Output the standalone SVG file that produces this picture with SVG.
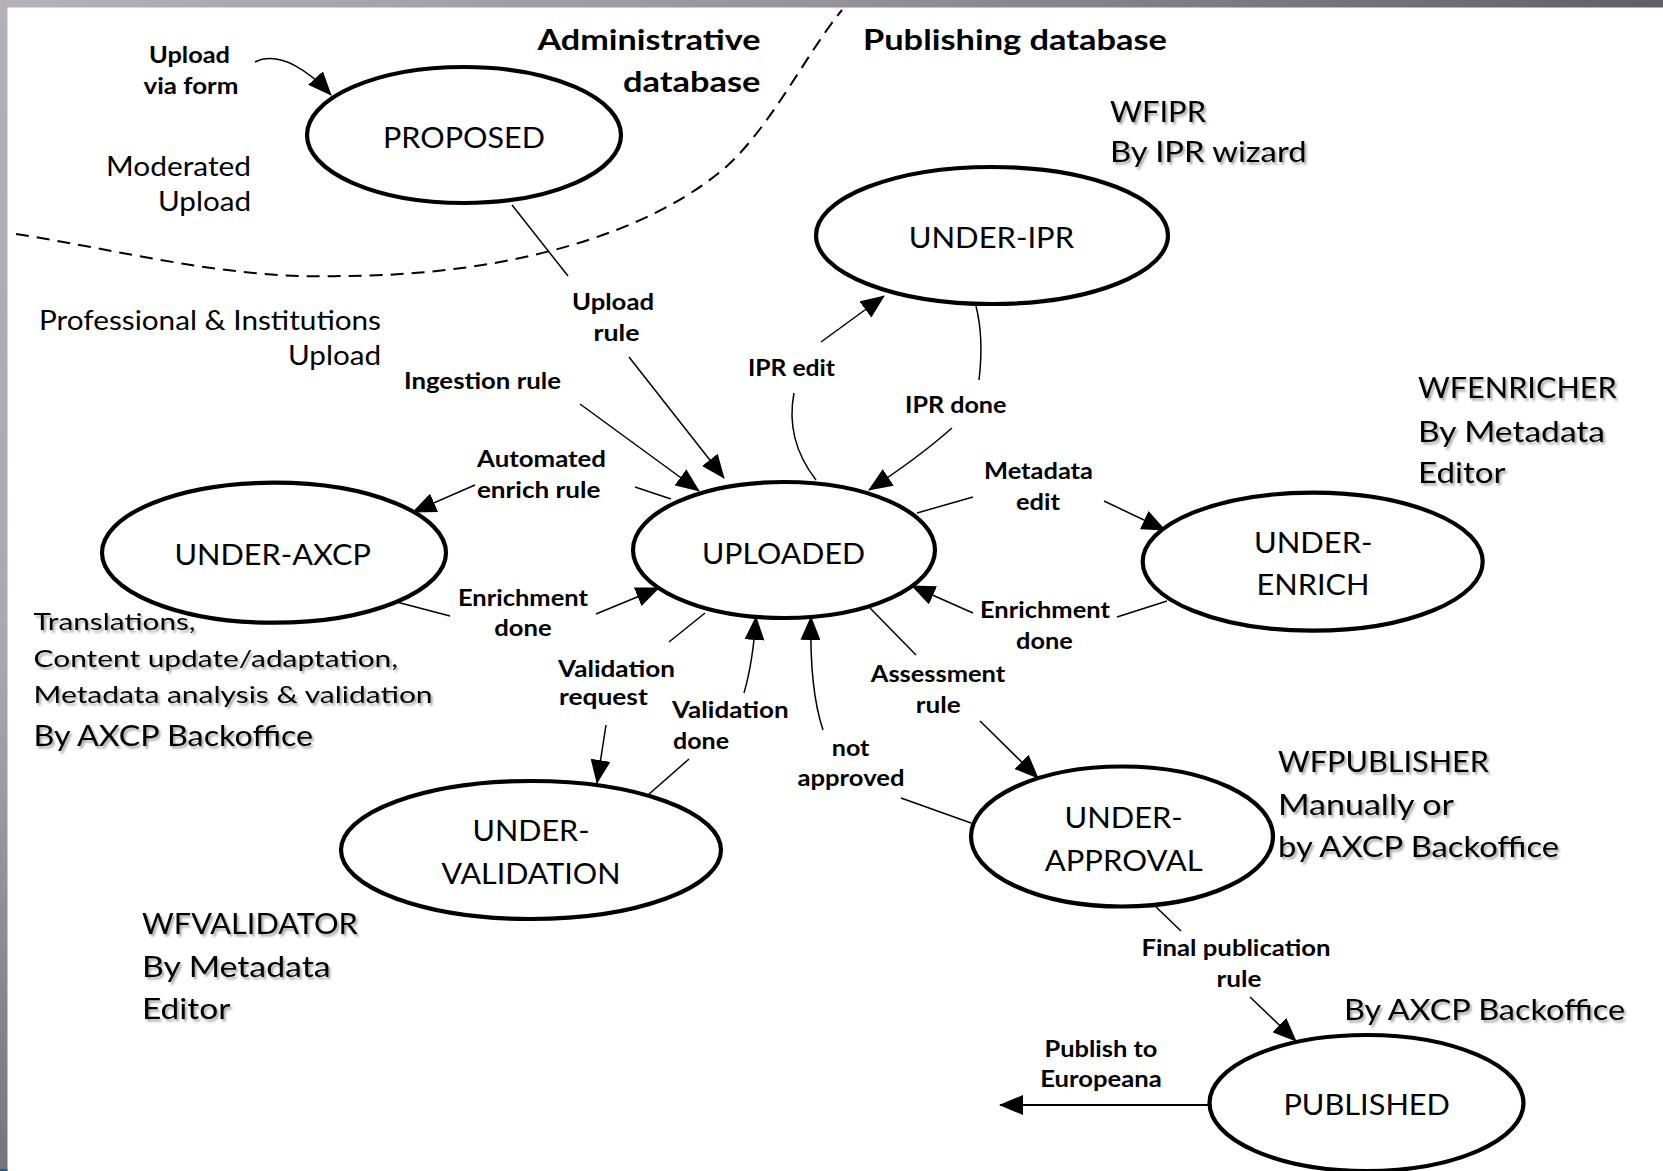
<svg xmlns="http://www.w3.org/2000/svg" width="1663" height="1171" viewBox="0 0 1663 1171">
<defs>
<linearGradient id="gTop" x1="0" y1="0" x2="1" y2="0">
<stop offset="0" stop-color="#b6b2ba"/><stop offset="0.5" stop-color="#95929a"/><stop offset="1" stop-color="#625f66"/>
</linearGradient>
<linearGradient id="gLeft" x1="0" y1="0" x2="0" y2="1">
<stop offset="0" stop-color="#b4b0b8"/><stop offset="0.55" stop-color="#aaa8b0"/><stop offset="1" stop-color="#77757b"/>
</linearGradient>
<marker id="arr" markerUnits="userSpaceOnUse" markerWidth="24" markerHeight="20" refX="23" refY="10" orient="auto">
<path d="M0,0 L24,10 L0,20 z" fill="#000"/>
</marker>
<filter id="shadow" x="-5%" y="-20%" width="115%" height="160%">
<feDropShadow dx="2" dy="2.5" stdDeviation="1.2" flood-color="#000" flood-opacity="0.35"/>
</filter>
<style>
.node ellipse{fill:#fff;stroke:#000;stroke-width:4.2}
.ntext{font-family:Lato,"Open Sans","Liberation Sans",sans-serif;font-size:28.5px;fill:#000;text-anchor:middle}
.lbl{font-family:Lato,"Open Sans","Liberation Sans",sans-serif;font-weight:bold;font-size:23px;fill:#000}
.title{font-family:Lato,"Open Sans","Liberation Sans",sans-serif;font-weight:bold;font-size:29px;fill:#000}
.note{font-family:Lato,"Open Sans","Liberation Sans",sans-serif;font-size:27px;fill:#000}
.sn{font-family:Lato,"Open Sans","Liberation Sans",sans-serif;font-size:28px;fill:#000;filter:url(#shadow)}
.sm{font-family:Lato,"Open Sans","Liberation Sans",sans-serif;font-size:24px;fill:#000;filter:url(#shadow)}
.c{text-anchor:middle}
.e{text-anchor:end}
.conn path{fill:none;stroke:#000;stroke-width:1.5}
.conn path.a{marker-end:url(#arr)}
.dash{fill:none;stroke:#000;stroke-width:2;stroke-dasharray:13 8}
</style>
</defs>

<rect x="0" y="0" width="1663" height="1171" fill="#ffffff"/>
<rect x="0" y="0" width="1663" height="7.5" fill="url(#gTop)"/>
<rect x="0" y="0" width="7.5" height="1171" fill="url(#gLeft)"/>
<rect x="0" y="1169" width="7.5" height="2" fill="#1f5f94"/>

<path class="dash" d="M 16,234 C 120,250 230,280 340,276 C 480,276 630,245 720,172 C 768,133 805,55 842,10"/>

<g id="titles">
<text class="title e" x="760.5" y="50" textLength="223" lengthAdjust="spacingAndGlyphs">Administrative</text>
<text class="title e" x="760.5" y="92" textLength="137.5" lengthAdjust="spacingAndGlyphs">database</text>
<text class="title" x="863" y="50" textLength="304" lengthAdjust="spacingAndGlyphs">Publishing database</text>
</g>

<g id="connectors" class="conn">
<path class="a" d="M 255,62 C 280,50 310,72 331,95"/>
<path d="M 512,205 L 568,276"/>
<path class="a" d="M 629,357 L 724,478"/>
<path class="a" d="M 580,404 L 699,491"/>
<path d="M 816,480 Q 785,440 794,393"/>
<path class="a" d="M 821,342 L 884,296"/>
<path d="M 976,306 C 982,330 982,355 979,380"/>
<path class="a" d="M 952,428 Q 918,458 869,490"/>
<path d="M 671,499 L 635,487"/>
<path class="a" d="M 475,485 L 413,512"/>
<path d="M 389,600 L 450,616"/>
<path class="a" d="M 596,614 L 659,588"/>
<path d="M 705,613 L 669,642"/>
<path class="a" d="M 606,725 L 597,783"/>
<path d="M 648,795 L 689,759"/>
<path class="a" d="M 744,693 Q 753,662 756,617"/>
<path d="M 971,823 L 901,798"/>
<path class="a" d="M 823,730 C 813,700 810,660 811,617"/>
<path d="M 917,513 L 973,497"/>
<path class="a" d="M 1104,501 L 1165,530"/>
<path d="M 1167,601 L 1117,617"/>
<path class="a" d="M 973,613 L 912,586"/>
<path d="M 870,608 L 916,655"/>
<path class="a" d="M 980,721 L 1038,778"/>
<path d="M 1156,907 L 1181,931"/>
<path class="a" d="M 1250,997 L 1296,1041"/>
<path class="a" style="stroke-width:2" d="M 1210,1105 L 1000,1105"/>
</g>

<g id="edge-labels">
<text class="lbl c" x="189.5" y="63" textLength="81" lengthAdjust="spacingAndGlyphs">Upload</text>
<text class="lbl c" x="191" y="94" textLength="95" lengthAdjust="spacingAndGlyphs">via form</text>
<text class="lbl c" x="613" y="310" textLength="82" lengthAdjust="spacingAndGlyphs">Upload</text>
<text class="lbl c" x="616.5" y="341" textLength="46" lengthAdjust="spacingAndGlyphs">rule</text>
<text class="lbl c" x="482.5" y="389" textLength="157" lengthAdjust="spacingAndGlyphs">Ingestion rule</text>
<text class="lbl c" x="791.5" y="376" textLength="87" lengthAdjust="spacingAndGlyphs">IPR edit</text>
<text class="lbl c" x="955.7" y="413" textLength="101.5" lengthAdjust="spacingAndGlyphs">IPR done</text>
<text class="lbl c" x="541.5" y="467" textLength="129" lengthAdjust="spacingAndGlyphs">Automated</text>
<text class="lbl c" x="538.7" y="498" textLength="123.5" lengthAdjust="spacingAndGlyphs">enrich rule</text>
<text class="lbl c" x="523" y="606" textLength="130" lengthAdjust="spacingAndGlyphs">Enrichment</text>
<text class="lbl c" x="523" y="636" textLength="57.5" lengthAdjust="spacingAndGlyphs">done</text>
<text class="lbl" x="558" y="677" textLength="117" lengthAdjust="spacingAndGlyphs">Validation</text>
<text class="lbl" x="559" y="705" textLength="88.7" lengthAdjust="spacingAndGlyphs">request</text>
<text class="lbl" x="672" y="718" textLength="116.6" lengthAdjust="spacingAndGlyphs">Validation</text>
<text class="lbl" x="673" y="749" textLength="56" lengthAdjust="spacingAndGlyphs">done</text>
<text class="lbl c" x="850.6" y="756" textLength="37.7" lengthAdjust="spacingAndGlyphs">not</text>
<text class="lbl c" x="851" y="786" textLength="107" lengthAdjust="spacingAndGlyphs">approved</text>
<text class="lbl c" x="1038.5" y="479" textLength="109" lengthAdjust="spacingAndGlyphs">Metadata</text>
<text class="lbl c" x="1038" y="510" textLength="44" lengthAdjust="spacingAndGlyphs">edit</text>
<text class="lbl c" x="1045" y="618" textLength="130" lengthAdjust="spacingAndGlyphs">Enrichment</text>
<text class="lbl c" x="1044.4" y="649" textLength="56.7" lengthAdjust="spacingAndGlyphs">done</text>
<text class="lbl c" x="938" y="682" textLength="134.5" lengthAdjust="spacingAndGlyphs">Assessment</text>
<text class="lbl c" x="938.3" y="713" textLength="45" lengthAdjust="spacingAndGlyphs">rule</text>
<text class="lbl c" x="1236" y="956" textLength="189" lengthAdjust="spacingAndGlyphs">Final publication</text>
<text class="lbl c" x="1239" y="987" textLength="45" lengthAdjust="spacingAndGlyphs">rule</text>
<text class="lbl c" x="1101" y="1057" textLength="113" lengthAdjust="spacingAndGlyphs">Publish to</text>
<text class="lbl c" x="1101" y="1087" textLength="121.6" lengthAdjust="spacingAndGlyphs">Europeana</text>
</g>

<g id="node-proposed" class="node">
<ellipse cx="464" cy="135" rx="157" ry="68"/>
<text class="ntext" x="464" y="148" textLength="162" lengthAdjust="spacingAndGlyphs">PROPOSED</text>
</g>
<g id="node-under-ipr" class="node">
<ellipse cx="992" cy="235.5" rx="176" ry="68.5"/>
<text class="ntext" x="991.4" y="248" textLength="165.5" lengthAdjust="spacingAndGlyphs">UNDER-IPR</text>
</g>
<g id="node-uploaded" class="node">
<ellipse cx="784" cy="550" rx="151" ry="68"/>
<text class="ntext" x="783.5" y="564" textLength="163" lengthAdjust="spacingAndGlyphs">UPLOADED</text>
</g>
<g id="node-under-axcp" class="node">
<ellipse cx="274" cy="552.7" rx="172" ry="70"/>
<text class="ntext" x="272.7" y="565" textLength="196.5" lengthAdjust="spacingAndGlyphs">UNDER-AXCP</text>
</g>
<g id="node-under-enrich" class="node">
<ellipse cx="1312.7" cy="561.7" rx="170" ry="69"/>
<text class="ntext" x="1313.3" y="553" textLength="118.6" lengthAdjust="spacingAndGlyphs">UNDER-</text>
<text class="ntext" x="1313" y="595" textLength="113" lengthAdjust="spacingAndGlyphs">ENRICH</text>
</g>
<g id="node-under-validation" class="node">
<ellipse cx="531" cy="850" rx="190" ry="69"/>
<text class="ntext" x="531" y="841" textLength="117" lengthAdjust="spacingAndGlyphs">UNDER-</text>
<text class="ntext" x="531" y="884" textLength="179" lengthAdjust="spacingAndGlyphs">VALIDATION</text>
</g>
<g id="node-under-approval" class="node">
<ellipse cx="1122" cy="836.5" rx="151" ry="70"/>
<text class="ntext" x="1123.7" y="828" textLength="118.3" lengthAdjust="spacingAndGlyphs">UNDER-</text>
<text class="ntext" x="1123.7" y="871" textLength="158" lengthAdjust="spacingAndGlyphs">APPROVAL</text>
</g>
<g id="node-published" class="node">
<ellipse cx="1366.5" cy="1103" rx="157" ry="68"/>
<text class="ntext" x="1366.7" y="1115" textLength="166.6" lengthAdjust="spacingAndGlyphs">PUBLISHED</text>
</g>

<g id="annotations">
<text class="note e" x="251" y="176" textLength="145" lengthAdjust="spacingAndGlyphs">Moderated</text>
<text class="note e" x="251" y="211" textLength="93" lengthAdjust="spacingAndGlyphs">Upload</text>
<text class="note e" x="381" y="330" textLength="342" lengthAdjust="spacingAndGlyphs">Professional &amp; Institutions</text>
<text class="note e" x="381" y="365" textLength="93" lengthAdjust="spacingAndGlyphs">Upload</text>

<text class="sn" x="1110" y="122" textLength="96" lengthAdjust="spacingAndGlyphs">WFIPR</text>
<text class="sn" x="1110" y="162" textLength="196.5" lengthAdjust="spacingAndGlyphs">By IPR wizard</text>

<text class="sn" x="1418" y="398" textLength="198.7" lengthAdjust="spacingAndGlyphs">WFENRICHER</text>
<text class="sn" x="1418" y="442" textLength="187" lengthAdjust="spacingAndGlyphs">By Metadata</text>
<text class="sn" x="1418" y="483" textLength="87.5" lengthAdjust="spacingAndGlyphs">Editor</text>

<text class="sm" x="33.6" y="630" textLength="162" lengthAdjust="spacingAndGlyphs">Translations,</text>
<text class="sm" x="33.6" y="667" textLength="364.4" lengthAdjust="spacingAndGlyphs">Content update/adaptation,</text>
<text class="sm" x="33.6" y="703" textLength="399" lengthAdjust="spacingAndGlyphs">Metadata analysis &amp; validation</text>
<text class="sn" x="33.6" y="746" textLength="279.5" lengthAdjust="spacingAndGlyphs">By AXCP Backoffice</text>

<text class="sn" x="142" y="934" textLength="215.7" lengthAdjust="spacingAndGlyphs">WFVALIDATOR</text>
<text class="sn" x="142" y="977" textLength="188.6" lengthAdjust="spacingAndGlyphs">By Metadata</text>
<text class="sn" x="142" y="1019" textLength="88.4" lengthAdjust="spacingAndGlyphs">Editor</text>

<text class="sn" x="1278" y="772" textLength="211" lengthAdjust="spacingAndGlyphs">WFPUBLISHER</text>
<text class="sn" x="1278" y="815" textLength="176" lengthAdjust="spacingAndGlyphs">Manually or</text>
<text class="sn" x="1278" y="857" textLength="281" lengthAdjust="spacingAndGlyphs">by AXCP Backoffice</text>

<text class="sn" x="1344" y="1020" textLength="281" lengthAdjust="spacingAndGlyphs">By AXCP Backoffice</text>
</g>
</svg>
